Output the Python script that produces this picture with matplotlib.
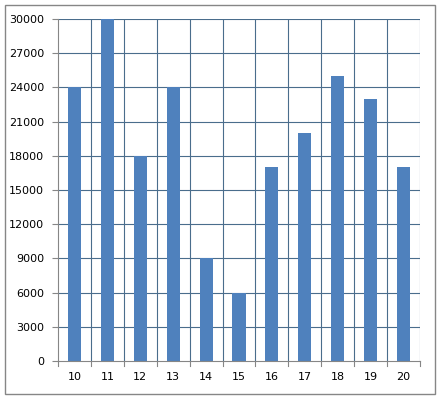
import matplotlib.pyplot as plt
from matplotlib.patches import Rectangle

categories = ['10', '11', '12', '13', '14', '15', '16', '17', '18', '19', '20']
values = [24000, 30000, 18000, 24000, 9000, 6000, 17000, 20000, 25000, 23000, 17000]
y_ticks = list(range(0, 30001, 3000))

fig = plt.figure(figsize=(4.4, 3.99), dpi=100)
fig.patches.append(Rectangle((5 / 440, 5 / 399), 430 / 440, 389 / 399, transform=fig.transFigure,
                             fill=False, edgecolor='#868686', linewidth=1))
ax = fig.add_axes([58 / 440, 38 / 399, 362 / 440, 342 / 399])

x = list(range(len(categories)))
ax.bar(x, values, width=0.4, color='#4f81bd', zorder=3)

ax.set_xlim(-0.5, len(categories) - 0.5)
ax.set_ylim(0, 30000)
ax.set_yticks(y_ticks)
ax.set_xticks(x)
ax.set_xticklabels(categories)
ax.tick_params(axis='x', length=0, pad=8, labelsize=8)
ax.tick_params(axis='y', length=4, color='#868686', pad=6, labelsize=8)

grid_color = '#4a6d8c'
for y in y_ticks[1:]:
    ax.axhline(y, color=grid_color, linewidth=0.8, zorder=1)
for b in range(1, len(categories) + 1):
    ax.axvline(b - 0.5, color=grid_color, linewidth=0.8, zorder=1)
# small ticks below axis at category boundaries
for b in range(len(categories) + 1):
    ax.plot([b - 0.5, b - 0.5], [0, -450], color='#868686', linewidth=0.8, clip_on=False, zorder=4)

for side in ['top', 'right']:
    ax.spines[side].set_visible(False)
ax.spines['left'].set_color('#868686')
ax.spines['bottom'].set_color('#868686')
ax.spines['bottom'].set_zorder(4)

fig.savefig('out.png', dpi=100)
